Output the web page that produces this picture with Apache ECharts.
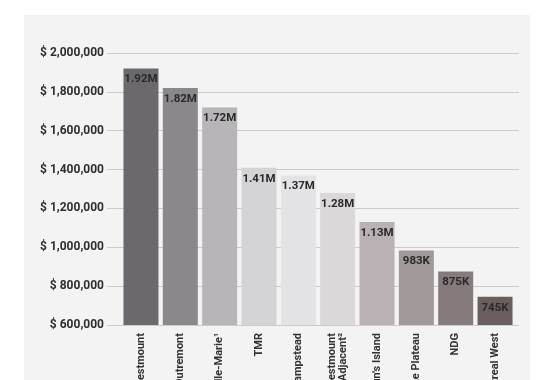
<!DOCTYPE html>
<html>
<head>
<meta charset="utf-8">
<script src="https://cdn.jsdelivr.net/npm/echarts@6/dist/echarts.min.js"></script>
<style>html,body{margin:0;padding:0;background:#fff;}#c{width:560px;height:380px;}</style>
</head>
<body>
<div id="c"></div>
<script>
var categories = ['Westmount', 'Outremont', 'Ville-Marie¹', 'TMR', 'Hampstead', 'Westmount\nAdjacent²', "Nun's Island", 'Le Plateau', 'NDG', 'Montreal West'];
var prices = [1920000, 1820000, 1720000, 1410000, 1370000, 1280000, 1130000, 983000, 875000, 745000];
var barColors = ['#6b696e', '#8a888c', '#b7b5b8', '#d4d3d5', '#e3e3e5', '#dcd8da', '#b9b1b3', '#a09899', '#857b7c', '#6a5e5f'];
var yMin = 600000, yMax = 2000000, yStep = 200000;

function fmtTick(v) { return '$ ' + v.toLocaleString('en-US'); }
function fmtShort(v) {
  if (v >= 1000000) return (v / 1000000).toFixed(2) + 'M';
  return Math.round(v / 1000) + 'K';
}

var chart = echarts.init(document.getElementById('c'));
var font = 'Roboto, "Liberation Sans", sans-serif';
chart.setOption({
  backgroundColor: '#ffffff',
  animation: false,
  graphic: [{
    type: 'rect', z: -10, silent: true,
    shape: { x: 24, y: 15, width: 506, height: 370 },
    style: { fill: '#f3f3f3' }
  }],
  grid: [
    { left: 107, right: 41, top: 53, bottom: 55, containLabel: false, outerBoundsMode: 'none' },
    { left: 121.3, right: 45.3, top: 53, bottom: 55, containLabel: false, outerBoundsMode: 'none' }
  ],
  xAxis: [
    { type: 'category', gridIndex: 0, data: [''], show: false },
    {
      type: 'category', gridIndex: 1, data: categories,
      axisLine: { show: false }, axisTick: { show: false },
      axisLabel: {
        rotate: 90, interval: 0, margin: 8,
        color: '#333', fontFamily: font, fontWeight: 'bold', fontSize: 11, lineHeight: 11,
        align: 'right'
      }
    }
  ],
  yAxis: [
    {
      type: 'value', gridIndex: 0, min: yMin, max: yMax, interval: yStep,
      axisLine: { show: false }, axisTick: { show: false },
      splitLine: { lineStyle: { color: '#cbcbcb', width: 1.2 } },
      axisLabel: {
        formatter: fmtTick, margin: 3,
        color: '#2f2f2f', fontFamily: font, fontWeight: 'bold', fontSize: 12
      }
    },
    { type: 'value', gridIndex: 1, min: yMin, max: yMax, interval: yStep, show: false, splitLine: { show: false } }
  ],
  series: [{
    type: 'bar', xAxisIndex: 1, yAxisIndex: 1,
    barWidth: 35,
    data: prices.map(function (v, i) { return { value: v, itemStyle: { color: barColors[i] } }; }),
    label: {
      show: true, position: 'insideTop', distance: 5,
      formatter: function (p) { return fmtShort(p.value); },
      color: '#2a2a2a', fontFamily: font, fontWeight: 'bold', fontSize: 11.5
    }
  }]
});
</script>
</body>
</html>
